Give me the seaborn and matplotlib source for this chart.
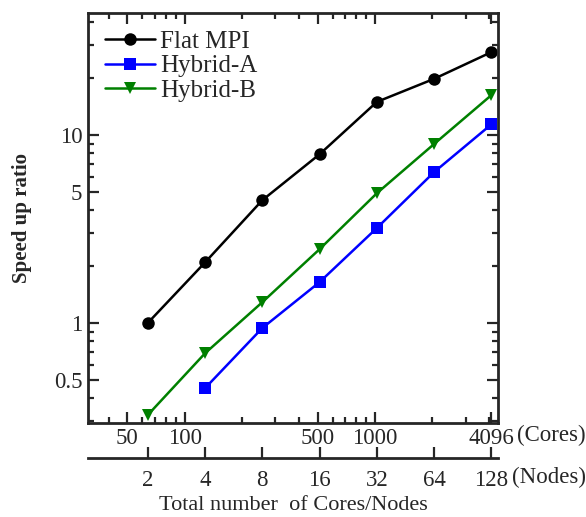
import numpy as np
import pandas as pd
import matplotlib
matplotlib.use('Agg')
import matplotlib.pyplot as plt
import matplotlib.ticker as mticker
import seaborn as sns

# Data
cores = [64, 128, 256, 512, 1024, 2048, 4096]
flat_mpi = [1.0, 2.1, 4.5, 7.9, 15.0, 19.9, 27.6]
hybrid_a_cores = [128, 256, 512, 1024, 2048, 4096]
hybrid_a = [0.45, 0.94, 1.65, 3.2, 6.35, 11.4]
hybrid_b = [0.324, 0.69, 1.29, 2.47, 4.9, 8.96, 16.3]

core_ticks = [50, 100, 500, 1000, 4096]
node_ticks = [2, 4, 8, 16, 32, 64, 128]
cores_per_node = 32

df = pd.concat([
    pd.DataFrame({'cores': cores, 'speedup': flat_mpi, 'series': 'Flat MPI'}),
    pd.DataFrame({'cores': hybrid_a_cores, 'speedup': hybrid_a, 'series': 'Hybrid-A'}),
    pd.DataFrame({'cores': cores, 'speedup': hybrid_b, 'series': 'Hybrid-B'}),
])

sns.set_style('ticks')
plt.rcParams['font.family'] = ['Liberation Serif', 'DejaVu Serif']

fig = plt.figure(figsize=(5.86, 5.17), dpi=100)
ax = fig.add_axes([0.150, 0.182, 0.700, 0.793])

palette = {'Flat MPI': 'black', 'Hybrid-A': '#0000FF', 'Hybrid-B': '#008000'}
markers = {'Flat MPI': 'o', 'Hybrid-A': 's', 'Hybrid-B': 'v'}
sns.lineplot(data=df, x='cores', y='speedup', hue='series', style='series',
             palette=palette, markers=markers, dashes=False, linewidth=1.8,
             markersize=9, markeredgewidth=0, ax=ax)

ax.set_xscale('log')
ax.set_yscale('log')
ax.set_xlim(31, 4440)
ax.set_ylim(0.294, 44.6)

# y ticks
ax.yaxis.set_major_locator(mticker.FixedLocator([0.5, 1, 5, 10]))
ax.yaxis.set_major_formatter(mticker.FixedFormatter(['0.5', '1', '5', '10']))
ax.yaxis.set_minor_locator(mticker.LogLocator(base=10, subs=np.arange(2, 10)))
ax.yaxis.set_minor_formatter(mticker.NullFormatter())

# x ticks (cores)
ax.xaxis.set_major_locator(mticker.FixedLocator(core_ticks))
ax.xaxis.set_major_formatter(mticker.FixedFormatter([str(c) for c in core_ticks]))
ax.xaxis.set_minor_locator(mticker.LogLocator(base=10, subs=np.arange(2, 10)))
ax.xaxis.set_minor_formatter(mticker.NullFormatter())

ax.tick_params(which='both', direction='in', top=True, right=True, width=1.6)
ax.tick_params(which='major', length=8, labelsize=16.5, pad=4)
ax.tick_params(which='minor', length=4)
for s in ax.spines.values():
    s.set_linewidth(2.0)
    s.set_visible(True)

# secondary axis (nodes)
sec = ax.secondary_xaxis(-0.085, functions=(lambda x: x / cores_per_node,
                                            lambda x: x * cores_per_node))
sec.set_xscale('log')
sec.xaxis.set_major_locator(mticker.FixedLocator(node_ticks))
sec.xaxis.set_major_formatter(mticker.FixedFormatter([str(n) for n in node_ticks]))
sec.xaxis.set_minor_locator(mticker.NullLocator())
sec.tick_params(direction='in', length=8, width=1.6, labelsize=16.5, pad=9)
sec.spines['bottom'].set_linewidth(2.0)

ax.text(1.045, -0.03, '(Cores)', transform=ax.transAxes, fontsize=16.5,
        ha='left', va='center')
ax.text(1.034, -0.134, '(Nodes)', transform=ax.transAxes, fontsize=16.5,
        ha='left', va='center')

ax.set_xlabel('')
ax.set_ylabel('Speed up ratio', fontsize=15, fontweight='bold', labelpad=16)
fig.text(0.50, 0.023, 'Total number  of Cores/Nodes', fontsize=16,
         ha='center', va='center')

leg = ax.legend(loc='upper left', frameon=False, fontsize=18, handlelength=2.0,
                labelspacing=0.08, handletextpad=0.2, borderaxespad=0.3)
leg.set_title(None)

fig.savefig('out.png', dpi=100)
